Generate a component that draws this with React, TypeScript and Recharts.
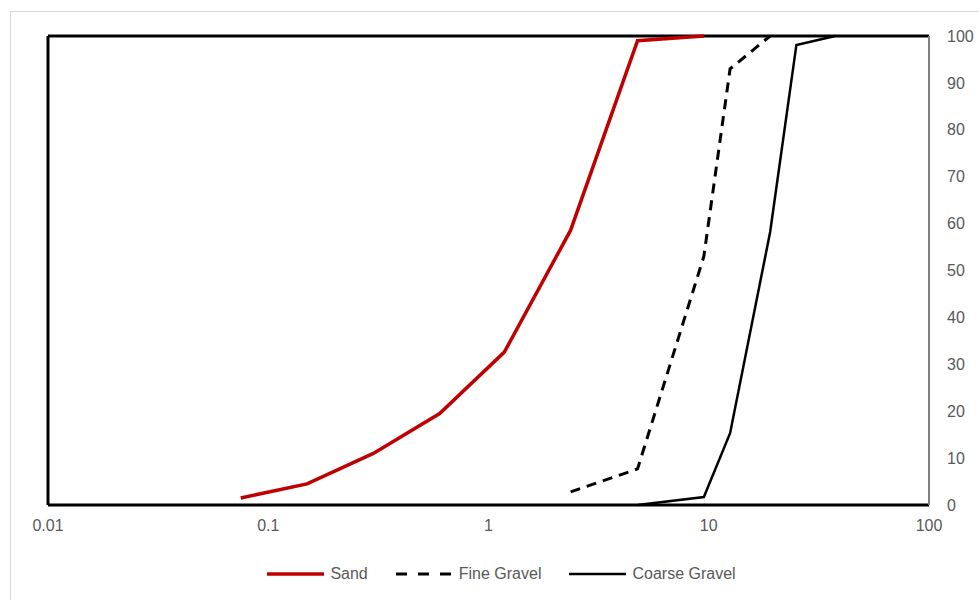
import React from 'react';
import { LineChart, Line, XAxis, YAxis, ReferenceLine, Legend } from 'recharts';

// sieve sizes (mm) and % passing for each gradation
const sandSize = [0.075, 0.15, 0.3, 0.6, 1.18, 2.36, 4.75, 9.5];
const sandPass = [1.5, 4.5, 11, 19.5, 32.6, 58.6, 99, 100];

const fineSize = [2.36, 4.75, 9.5, 12.5, 19];
const finePass = [2.8, 7.7, 53, 93, 100];

const coarseSize = [4.75, 9.5, 12.5, 19, 25, 37.5];
const coarsePass = [0, 1.7, 15.3, 58.2, 98.1, 100];

const xTicks = [0.01, 0.1, 1, 10, 100];
const yTicks = [0, 10, 20, 30, 40, 50, 60, 70, 80, 90, 100];

const toPoints = (xs: number[], ys: number[]) => xs.map((x, i) => ({ x, y: ys[i] }));

const series = [
  { name: 'Sand', data: toPoints(sandSize, sandPass), color: '#C00000', width: 3.5, dash: undefined as string | undefined, legendDash: undefined as string | undefined },
  { name: 'Fine Gravel', data: toPoints(fineSize, finePass), color: '#000000', width: 3, dash: '10 7', legendDash: '11 11' },
  { name: 'Coarse Gravel', data: toPoints(coarseSize, coarsePass), color: '#000000', width: 2.5, dash: undefined, legendDash: undefined },
];

const FONT = '"Liberation Sans", Arial, sans-serif';
const GREY = '#595959';

const renderLegend = () => (
  <div style={{ display: 'flex', justifyContent: 'center', alignItems: 'center', height: 24, paddingLeft: 24, fontFamily: FONT, fontSize: 16, color: GREY }}>
    {series.map((s, i) => (
      <div key={s.name} style={{ display: 'flex', alignItems: 'center', marginLeft: i === 0 ? 0 : 28 }}>
        <svg width={57} height={10} style={{ marginRight: 6 }}>
          <line x1={0} y1={5} x2={57} y2={5} stroke={s.color} strokeWidth={s.width} strokeDasharray={s.legendDash} />
        </svg>
        <span>{s.name}</span>
      </div>
    ))}
  </div>
);

export default function App() {
  return (
    <div style={{ position: 'fixed', left: 0, top: 0, width: 979, height: 600, overflow: 'hidden', background: '#fff' }}>
      <div style={{ position: 'absolute', left: 10, top: 11, width: 1100, height: 700, border: '1px solid #d9d9d9' }} />
      <div style={{ position: 'absolute', left: 0, top: 0 }}>
        <LineChart width={979} height={600} margin={{ top: 36, left: 48, right: 10, bottom: 41 }}>
          <XAxis
            type="number"
            dataKey="x"
            scale="log"
            domain={[0.01, 100]}
            ticks={xTicks}
            allowDataOverflow
            height={30}
            tickLine={false}
            tickSize={0}
            tickMargin={15}
            axisLine={{ stroke: '#000', strokeWidth: 3 }}
            tick={{ fill: GREY, fontSize: 16, fontFamily: FONT }}
            tickFormatter={(v: number) => String(v)}
          />
          <YAxis
            type="number"
            orientation="right"
            domain={[0, 100]}
            ticks={yTicks}
            width={40}
            tickLine={false}
            tickSize={0}
            tickMargin={18}
            axisLine={{ stroke: '#7f7f7f', strokeWidth: 2 }}
            tick={{ fill: GREY, fontSize: 16, fontFamily: FONT }}
          />
          <ReferenceLine y={100} stroke="#000" strokeWidth={3} />
          <ReferenceLine x={0.01} stroke="#000" strokeWidth={3} />
          {series.map((s) => (
            <Line
              key={s.name}
              name={s.name}
              data={s.data}
              dataKey="y"
              type="linear"
              stroke={s.color}
              strokeWidth={s.width}
              strokeDasharray={s.dash}
              dot={false}
              activeDot={false}
              isAnimationActive={false}
            />
          ))}
          <Legend verticalAlign="bottom" content={renderLegend} wrapperStyle={{ left: 0, width: 979, bottom: 14 }} />
        </LineChart>
      </div>
    </div>
  );
}
